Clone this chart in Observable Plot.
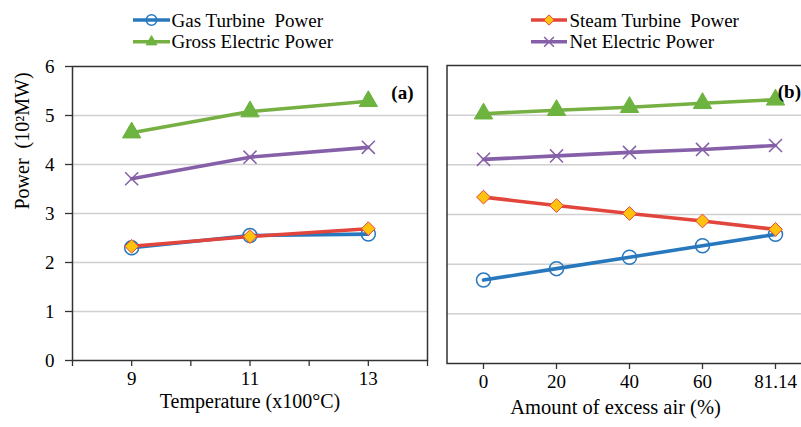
<!DOCTYPE html>
<html><head><meta charset="utf-8">
<script src="https://cdn.jsdelivr.net/npm/d3@7"></script>
<script src="https://cdn.jsdelivr.net/npm/@observablehq/plot@0.6"></script>
<style>
html,body{margin:0;padding:0;background:#fff;overflow:hidden;}
#wrap{position:relative;width:801px;height:427px;overflow:hidden;background:#fff;font-family:"Liberation Serif","Times New Roman",serif;}
#legend{position:absolute;left:0;top:0;width:801px;height:58px;}
#left{position:absolute;left:0;top:58px;width:440px;height:369px;}
#right{position:absolute;left:436px;top:58px;width:376px;height:369px;}
#left svg,#right svg{max-width:none !important;}
</style></head><body>
<div id="wrap"><div id="legend"></div><div id="left"></div><div id="right"></div></div>
<script>
// ---- data ----
const series = ["Gas Turbine Power", "Steam Turbine Power", "Gross Electric Power", "Net Electric Power"];
const legendLabels = ["Gas Turbine  Power", "Steam Turbine  Power", "Gross Electric Power", "Net Electric Power"];
// panel (a)
const temperature = [9, 11, 13];
const gasA = [2.30, 2.55, 2.58];
const steamA = [2.33, 2.53, 2.69];
const grossA = [4.65, 5.08, 5.29];
const netA = [3.71, 4.15, 4.35];
// panel (b)
const excessAir = ["0", "20", "40", "60", "81.14"];
const gasB = [1.68, 1.91, 2.14, 2.37, 2.60];
const steamB = [3.35, 3.18, 3.02, 2.87, 2.70];
const grossB = [5.03, 5.10, 5.16, 5.24, 5.31];
const netB = [4.11, 4.18, 4.25, 4.31, 4.39];
// ticks
const yTicks = [0, 1, 2, 3, 4, 5, 6];
const gridValues = [1, 2, 3, 4, 5];
const tempTicks = [8, 9, 10, 11, 12, 13, 14];
const tempTickLabels = [9, 11, 13];

// ---- styles ----
const sty = {
  "Gas Turbine Power":    {line: "#2878BD", symbol: "circle",   fill: "none",    stroke: "#2878BD", r: 7,   sw: 1.5},
  "Steam Turbine Power":  {line: "#E2453C", symbol: "diamond2", fill: "#FFC20E", stroke: "#E2453C", r: 6.2, sw: 1},
  "Gross Electric Power": {line: "#76B043", symbol: "triangle", fill: "#6DB33F", stroke: "#6DB33F", r: 6.8, sw: 1},
  "Net Electric Power":   {line: "#8560A8", symbol: "times",    fill: "none",    stroke: "#8560A8", r: 6,   sw: 1.5}
};
const drawOrder = ["Gross Electric Power", "Net Electric Power", "Gas Turbine Power", "Steam Turbine Power"];

const rowsA = temperature.flatMap((t, i) => [
  {x: t, y: gasA[i], s: series[0]},
  {x: t, y: steamA[i], s: series[1]},
  {x: t, y: grossA[i], s: series[2]},
  {x: t, y: netA[i], s: series[3]}
]);
const rowsB = excessAir.flatMap((t, i) => [
  {x: t, y: gasB[i], s: series[0]},
  {x: t, y: steamB[i], s: series[1]},
  {x: t, y: grossB[i], s: series[2]},
  {x: t, y: netB[i], s: series[3]}
]);

function seriesMarks(rows) {
  return drawOrder.flatMap(name => {
    const d = rows.filter(r => r.s === name);
    const st = sty[name];
    return [
      Plot.line(d, {x: "x", y: "y", stroke: st.line, strokeWidth: 3.6}),
      Plot.dot(d, {x: "x", y: "y", symbol: st.symbol, r: st.r, fill: st.fill, stroke: st.stroke, strokeWidth: st.sw})
    ];
  });
}

const baseStyle = {fontFamily: "'Liberation Serif','Times New Roman',serif", fontSize: "19px", color: "#000", background: "transparent", overflow: "visible", maxWidth: "none"};
const axisColor = "#333";

// ---- panel (a) ----
const left = Plot.plot({
  width: 440, height: 369,
  marginLeft: 72, marginRight: 13, marginTop: 8, marginBottom: 67,
  style: baseStyle,
  x: {domain: [8, 14]},
  y: {domain: [0, 6]},
  marks: [
    Plot.ruleY(gridValues, {stroke: "#d0d0d0", strokeWidth: 1.5}),
    Plot.frame({stroke: axisColor, strokeWidth: 1.5}),
    Plot.axisY({ticks: yTicks, tickSize: 7, tickPadding: 11, stroke: axisColor, strokeWidth: 1.3, label: null, tickFormat: d => String(d)}),
    Plot.axisX({ticks: tempTicks, tickSize: 6, tickPadding: 5, stroke: axisColor, strokeWidth: 1.3, label: null,
                tickFormat: d => tempTickLabels.includes(d) ? String(d) : ""}),
    ...seriesMarks(rowsA),
    Plot.text(["(a)"], {frameAnchor: "top-right", dx: -14, dy: 19, textAnchor: "end", fontWeight: "bold", fontSize: 19}),
    Plot.text(["Temperature (x100°C)"], {frameAnchor: "bottom", dy: 47, fontSize: 20}),
    Plot.text(["Power  (10²MW)"], {frameAnchor: "left", rotate: -90, dx: -50, dy: -4, fontSize: 20})
  ]
});
document.getElementById("left").appendChild(left);

// ---- panel (b) ----
const right = Plot.plot({
  width: 376, height: 369,
  marginLeft: 10.5, marginRight: 0.5, marginTop: 7, marginBottom: 64,
  style: baseStyle,
  x: {type: "point", domain: excessAir, padding: 0.5},
  y: {domain: [0, 6], axis: null},
  marks: [
    Plot.ruleY(gridValues, {stroke: "#d0d0d0", strokeWidth: 1.5}),
    Plot.frame({stroke: axisColor, strokeWidth: 1.5}),
    Plot.axisX({tickSize: 6, tickPadding: 5, stroke: axisColor, strokeWidth: 1.3, label: null}),
    ...seriesMarks(rowsB),
    Plot.text(["(b)"], {frameAnchor: "top-right", dx: -11, dy: 19, textAnchor: "end", fontWeight: "bold", fontSize: 19}),
    Plot.text(["Amount of excess air (%)"], {frameAnchor: "bottom", dx: -14, dy: 50, fontSize: 20.5})
  ]
});
document.getElementById("right").appendChild(right);

// ---- legend ----
const symMap = {circle: d3.symbolCircle, diamond2: d3.symbolDiamond2, triangle: d3.symbolTriangle2, times: d3.symbolTimes};
const legendPos = [
  {i: 0, x0: 133, x1: 170, tx: 171.5, base: 26.5},
  {i: 1, x0: 531, x1: 567, tx: 569.5, base: 26.5},
  {i: 2, x0: 133, x1: 170, tx: 171.5, base: 48.3},
  {i: 3, x0: 531, x1: 567, tx: 569.5, base: 48.3}
];
const lsvg = d3.select("#legend").append("svg").attr("width", 801).attr("height", 58)
  .style("font-family", "'Liberation Serif','Times New Roman',serif").style("font-size", "19px");
legendPos.forEach(p => {
  const st = sty[series[p.i]];
  const cy = p.base - 6.5;
  lsvg.append("line").attr("x1", p.x0).attr("x2", p.x1).attr("y1", cy).attr("y2", cy)
    .attr("stroke", st.line).attr("stroke-width", 3.6);
  const rr = st.r * 0.75;
  lsvg.append("path").attr("d", d3.symbol(symMap[st.symbol], Math.PI * rr * rr)())
    .attr("transform", `translate(${(p.x0 + p.x1) / 2},${cy})`)
    .attr("fill", st.fill).attr("stroke", st.stroke).attr("stroke-width", st.sw);
  lsvg.append("text").attr("x", p.tx).attr("y", p.base).attr("fill", "#000")
    .style("white-space", "pre").text(legendLabels[p.i]);
});
</script>
</body></html>
